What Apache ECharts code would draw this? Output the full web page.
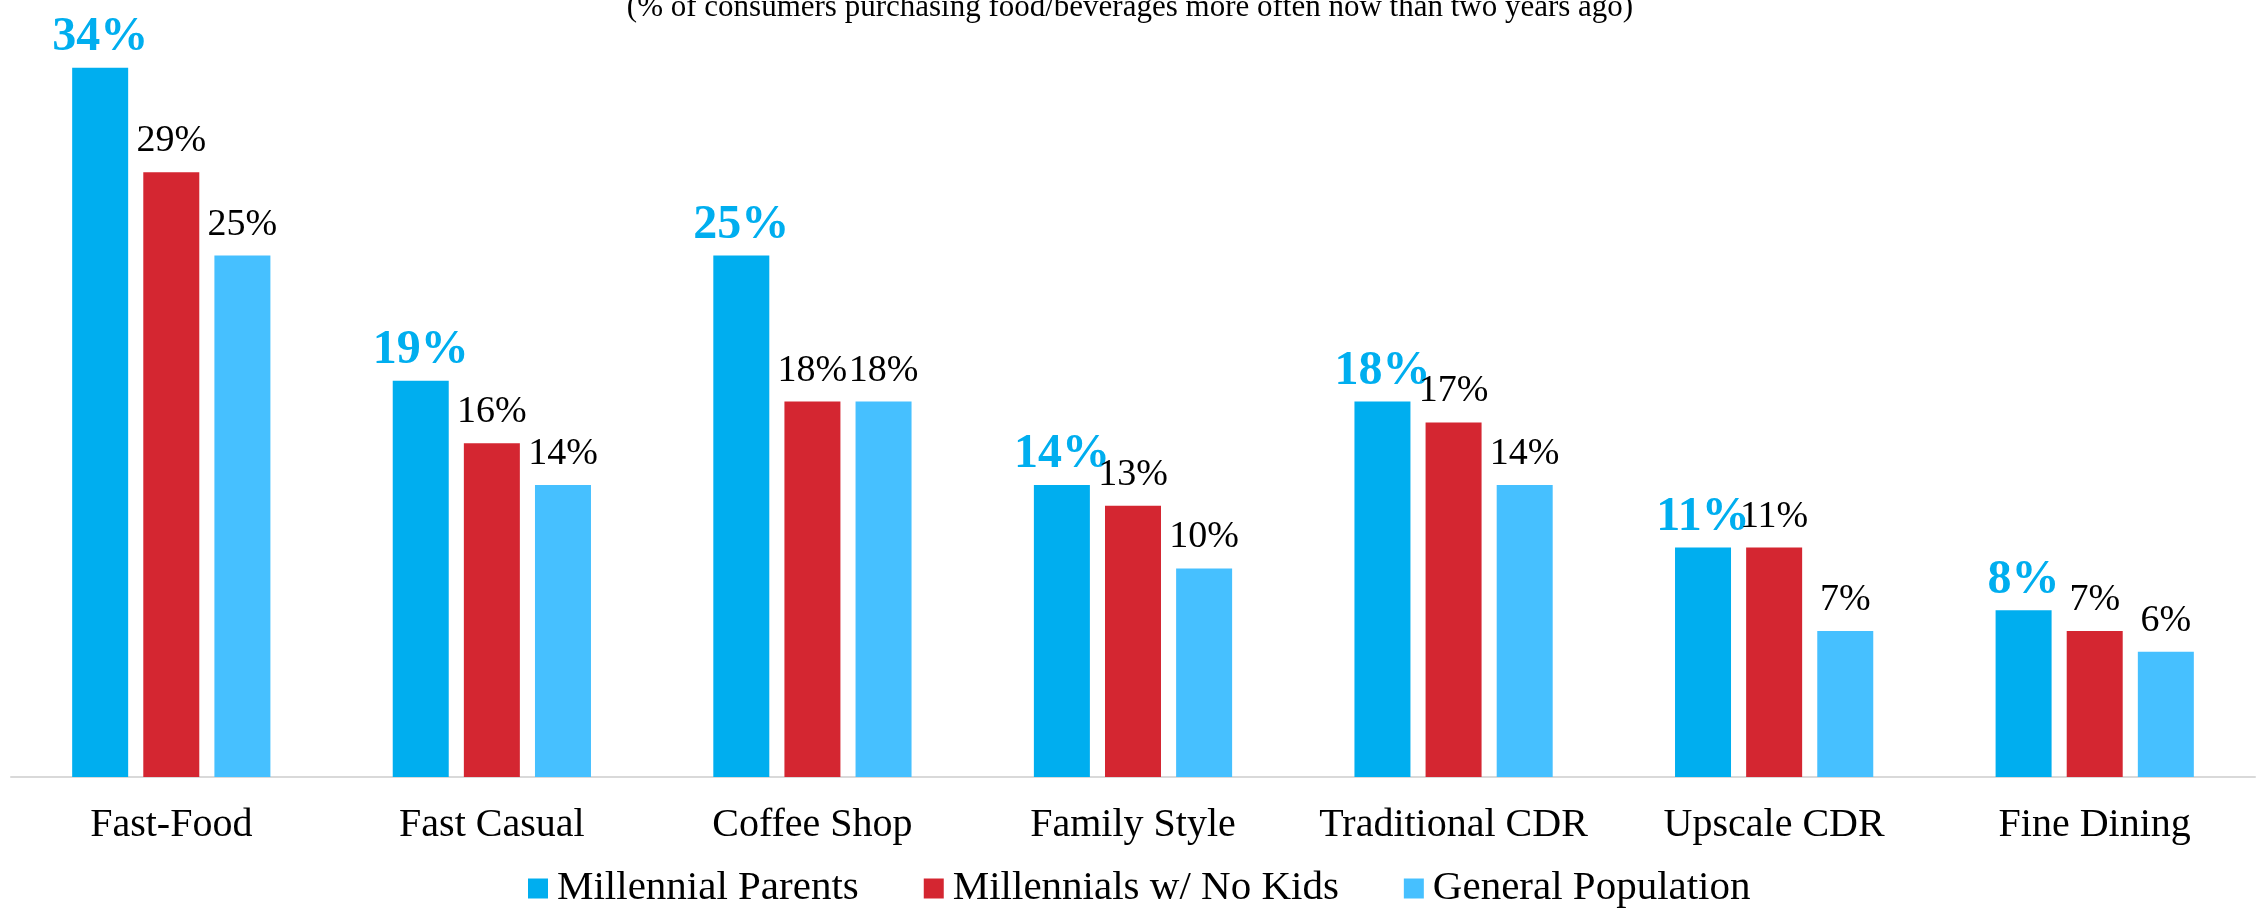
<!DOCTYPE html>
<html>
<head>
<meta charset="utf-8">
<title>Purchasing more often</title>
<script src="https://cdn.jsdelivr.net/npm/echarts@6/dist/echarts.min.js"></script>
<style>
  html, body { margin: 0; padding: 0; background: #fff; }
  #chart { width: 2260px; height: 909px; }
</style>
</head>
<body>
<div id="chart"></div>
<script>
// data
const categories = ['Fast-Food', 'Fast Casual', 'Coffee Shop', 'Family Style', 'Traditional CDR', 'Upscale CDR', 'Fine Dining']
const seriesNames = ['Millennial Parents', 'Millennials w/ No Kids', 'General Population']
const millennialParents = [34, 19, 25, 14, 18, 11, 8]
const millennialsNoKids = [29, 16, 18, 13, 17, 11, 7]
const generalPopulation = [25, 14, 18, 10, 14, 7, 6]

const FONT = '"Liberation Serif", "DejaVu Serif", serif'
const colors = ['#00AEEF', '#D42631', '#46C0FF']

const chart = echarts.init(document.getElementById('chart'))

const plainLabel = {
  show: true,
  position: 'top',
  distance: 12,
  color: '#000',
  fontFamily: FONT,
  fontSize: 38,
  formatter: '{c}%',
}

const option = {
  backgroundColor: '#fff',
  animation: false,
  title: {
    text: '(% of consumers purchasing food/beverages more often now than two years ago)',
    left: 'center',
    top: -8,
    padding: 0,
    textStyle: { fontFamily: FONT, fontWeight: 'normal', fontSize: 31, color: '#000' },
  },
  legend: {
    data: seriesNames,
    left: 528,
    top: 868,
    padding: 0,
    icon: 'rect',
    itemWidth: 20,
    itemHeight: 20,
    itemGap: 65,
    textStyle: { fontFamily: FONT, fontSize: 41, color: '#000', padding: [0, 0, 0, 4] },
  },
  grid: { top: 47, bottom: 132, left: 11, right: 5 },
  xAxis: {
    type: 'category',
    data: categories,
    axisTick: { show: false },
    axisLine: { lineStyle: { color: '#D9D9D9', width: 2 } },
    axisLabel: { interval: 0, color: '#000', fontFamily: FONT, fontSize: 40, margin: 28 },
  },
  yAxis: {
    type: 'value',
    min: 0,
    max: 35,
    show: false,
    splitLine: { show: false },
  },
  series: [
    {
      name: seriesNames[0],
      type: 'bar',
      barWidth: 56,
      barGap: '27%',
      itemStyle: { color: colors[0] },
      label: { ...plainLabel, color: colors[0], fontWeight: 'bold', fontSize: 48, distance: 6 },
      data: millennialParents,
    },
    {
      name: seriesNames[1],
      type: 'bar',
      barWidth: 56,
      barGap: '27%',
      itemStyle: { color: colors[1] },
      label: plainLabel,
      data: millennialsNoKids,
    },
    {
      name: seriesNames[2],
      type: 'bar',
      barWidth: 56,
      barGap: '27%',
      itemStyle: { color: colors[2] },
      label: plainLabel,
      data: generalPopulation,
    },
  ],
}

chart.setOption(option)
</script>
</body>
</html>
